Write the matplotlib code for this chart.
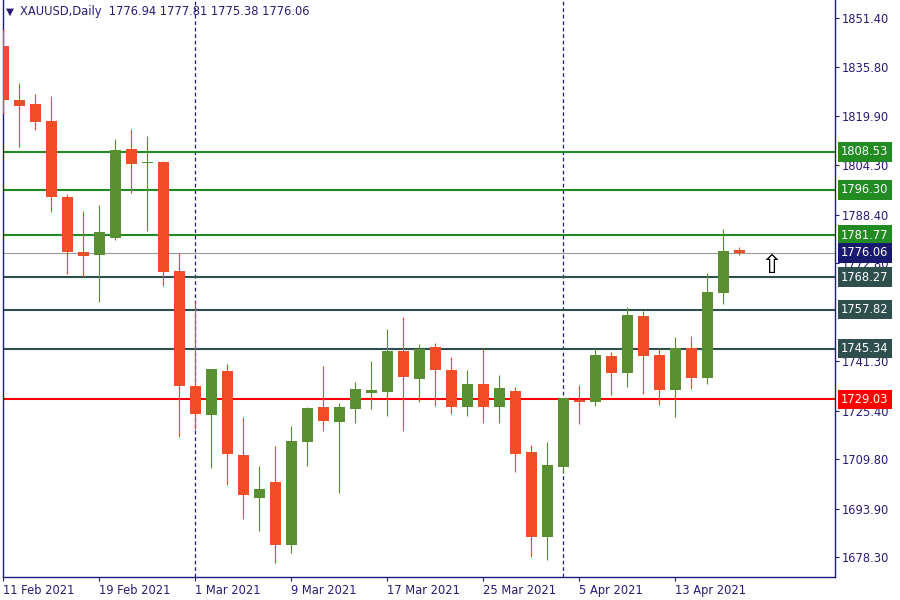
import matplotlib
matplotlib.use("Agg")
import matplotlib.pyplot as plt
import numpy as np
import pandas as pd
from matplotlib.transforms import blended_transform_factory

# ---------------- data ----------------
symbol_title = "XAUUSD,Daily"
last_ohlc = [1776.94, 1777.81, 1775.38, 1776.06]

dates = pd.bdate_range("2021-02-11", "2021-04-19")
dates = [d for d in dates if d != pd.Timestamp("2021-04-02")]

opens = [1842.5, 1825.2, 1823.9, 1818.4, 1794.0, 1776.4, 1775.5, 1781.0, 1809.4, 1805.0,
         1805.3, 1770.3, 1733.3, 1724.1, 1738.1, 1711.2, 1697.5, 1702.5, 1682.4, 1715.4,
         1726.6, 1721.9, 1726.0, 1731.2, 1731.5, 1744.6, 1735.7, 1745.9, 1738.5, 1726.7,
         1734.0, 1726.7, 1731.7, 1712.1, 1684.9, 1707.4, 1728.7, 1728.3, 1743.0, 1737.6,
         1755.8, 1743.3, 1732.1, 1745.6, 1736.0, 1763.3, 1776.94]
highs = [1847.6, 1830.7, 1827.1, 1826.5, 1795.0, 1789.5, 1791.4, 1812.6, 1815.9, 1813.6,
         1805.6, 1775.9, 1760.2, 1738.9, 1740.4, 1723.5, 1707.6, 1714.1, 1720.5, 1726.7,
         1739.8, 1727.8, 1734.6, 1741.4, 1751.6, 1755.5, 1746.8, 1747.1, 1742.6, 1738.5,
         1745.5, 1736.9, 1733.0, 1714.4, 1715.3, 1729.6, 1733.8, 1745.5, 1744.2, 1758.6,
         1757.4, 1745.5, 1749.1, 1749.4, 1769.6, 1783.7, 1777.81]
lows = [1821.1, 1810.2, 1815.5, 1789.3, 1769.3, 1768.2, 1760.4, 1780.2, 1795.4, 1783.2,
        1765.5, 1717.1, 1719.2, 1707.1, 1701.6, 1690.5, 1686.9, 1676.6, 1679.8, 1707.7,
        1719.0, 1699.1, 1721.5, 1726.0, 1723.8, 1719.0, 1728.3, 1727.0, 1724.4, 1723.8,
        1721.5, 1721.5, 1705.8, 1678.5, 1677.6, 1705.5, 1721.2, 1727.0, 1730.5, 1733.1,
        1730.9, 1727.3, 1723.5, 1732.5, 1734.1, 1759.8, 1775.38]
closes = [1825.2, 1823.3, 1818.2, 1794.1, 1776.5, 1775.2, 1782.8, 1809.1, 1804.7, 1805.3,
          1770.0, 1733.4, 1724.4, 1738.8, 1711.6, 1698.4, 1700.3, 1682.4, 1715.7, 1726.3,
          1722.2, 1726.6, 1732.4, 1732.0, 1744.6, 1736.3, 1745.2, 1738.6, 1726.7, 1734.0,
          1726.7, 1732.7, 1711.6, 1684.9, 1708.0, 1729.5, 1728.3, 1743.3, 1737.6, 1756.1,
          1743.1, 1732.1, 1745.6, 1736.0, 1763.5, 1776.7, 1776.06]

x_tick_labels = ["11 Feb 2021", "19 Feb 2021", "1 Mar 2021", "9 Mar 2021",
                 "17 Mar 2021", "25 Mar 2021", "5 Apr 2021", "13 Apr 2021"]
x_tick_dates = ["2021-02-11", "2021-02-19", "2021-03-01", "2021-03-09",
                "2021-03-17", "2021-03-25", "2021-04-05", "2021-04-13"]
separator_dates = ["2021-03-01", "2021-04-01"]

y_tick_values = [1851.40, 1835.80, 1819.90, 1804.30, 1788.40, 1772.80,
                 1741.30, 1725.40, 1709.80, 1693.90, 1678.30]

green_levels = [1808.53, 1796.30, 1781.77]
slate_levels = [1768.27, 1757.82, 1745.34]
red_levels = [1729.03]
bid_price = 1776.06
arrow_index = 48
arrow_price = 1776.06

# ---------------- style ----------------
BULL = "#5B9032"
BEAR = "#F24D26"
NAVY = "#1E1E78"
TEXT = "#2A1A78"
GREEN = "#228B22"
SLATE = "#2F4F4F"
RED = "#FF0000"
BIDBOX = "#191970"
FS = 8.3

plt.rcParams["font.family"] = ["DejaVu Sans"]

fig = plt.figure(figsize=(9, 6), dpi=100)
fig.patch.set_facecolor("white")
ax = fig.add_axes([3 / 900, 23 / 600, 832 / 900, 577 / 600])

n = len(opens)
xs = np.arange(n)
date_index = {d.strftime("%Y-%m-%d"): i for i, d in enumerate(dates)}

o = np.array(opens); h = np.array(highs); l = np.array(lows); c = np.array(closes)
bull = c >= o
colors = np.where(bull, BULL, BEAR)

# wicks
ax.vlines(xs, l, h, colors=colors, linewidth=0.85, zorder=3)
# bodies
body_bottom = np.minimum(o, c)
body_height = np.maximum(np.abs(c - o), 0.35)
ax.bar(xs, body_height, bottom=body_bottom, width=0.69, color=colors,
       edgecolor="none", linewidth=0, zorder=4)

# horizontal levels
for lv in green_levels:
    ax.axhline(lv, color=GREEN, linewidth=1.5, zorder=2)
for lv in slate_levels:
    ax.axhline(lv, color=SLATE, linewidth=1.5, zorder=2)
for lv in red_levels:
    ax.axhline(lv, color=RED, linewidth=1.5, zorder=2)
ax.axhline(bid_price, color="#999999", linewidth=0.8, zorder=2)

# month separators
for d in separator_dates:
    ax.axvline(date_index[d], color=NAVY, linewidth=0.9, linestyle=(0, (3, 2.2)), zorder=1)

# axes limits
ax.set_xlim(-0.02, -0.02 + 832 / 16)
ax.set_ylim(1672.0, 1857.28)

# ticks
ax.set_xticks([date_index[d] for d in x_tick_dates])
ax.set_xticklabels(x_tick_labels)
for lab in ax.get_xticklabels():
    lab.set_horizontalalignment("left")
ax.tick_params(axis="x", direction="out", length=3, width=0.8, colors=NAVY,
               labelcolor=TEXT, labelsize=FS, pad=2)

ax.yaxis.tick_right()
ax.set_yticks(y_tick_values)
ax.set_yticklabels([f"{v:.2f}" for v in y_tick_values])
ax.tick_params(axis="y", direction="out", length=3, width=0.8, colors=NAVY,
               labelcolor=TEXT, labelsize=FS, pad=2)

for sp in ax.spines.values():
    sp.set_color(NAVY)
    sp.set_linewidth(1.0)
ax.spines["top"].set_visible(False)

# price boxes on the right scale
tr = blended_transform_factory(ax.transAxes, ax.transData)
def price_box(val, col):
    ax.annotate(f"{val:.2f}", xy=(1.0, val), xycoords=tr,
                xytext=(6, 0), textcoords="offset pixels",
                ha="left", va="center", fontsize=FS, color="white",
                bbox=dict(boxstyle="square,pad=0.28", fc=col, ec="none"),
                annotation_clip=False, zorder=10)

for lv in green_levels:
    price_box(lv, GREEN)
for lv in slate_levels:
    price_box(lv, SLATE)
for lv in red_levels:
    price_box(lv, RED)
price_box(bid_price, BIDBOX)

# arrow object
ax.text(arrow_index, arrow_price, "\u21E7", ha="center", va="top",
        fontsize=19, color="black", zorder=6)

# title
fig.text(6 / 900, 1 - 12 / 600, "\u25BC", fontsize=7.5, color=TEXT, va="center", ha="left")
fig.text(20 / 900, 1 - 12 / 600,
         f"{symbol_title}  " + " ".join(f"{v:.2f}" for v in last_ohlc),
         fontsize=FS, color=TEXT, va="center", ha="left")

fig.savefig("out.png", dpi=100, facecolor="white")
